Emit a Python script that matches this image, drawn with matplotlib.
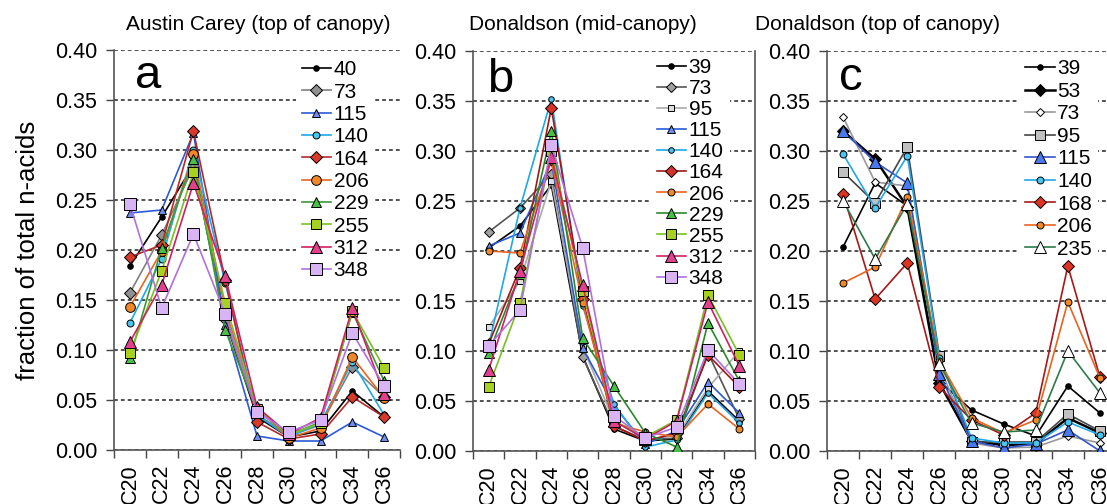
import matplotlib
matplotlib.use("Agg")
import matplotlib.pyplot as plt
from matplotlib.ticker import FixedLocator

plt.rcParams['font.family'] = ['Liberation Sans', 'DejaVu Sans']

categories = ["C20", "C22", "C24", "C26", "C28", "C30", "C32", "C34", "C36"]
yticks = [0.00, 0.05, 0.10, 0.15, 0.20, 0.25, 0.30, 0.35, 0.40]

# panel a: Austin Carey (top of canopy)
a_labels = ["40", "73", "115", "140", "164", "206", "229", "255", "312", "348"]
a_values = [
    [0.184, 0.233, 0.285, 0.130, 0.033, 0.013, 0.019, 0.059, 0.033],
    [0.157, 0.215, 0.283, 0.131, 0.036, 0.014, 0.025, 0.083, 0.053],
    [0.237, 0.240, 0.317, 0.125, 0.014, 0.009, 0.009, 0.028, 0.013],
    [0.127, 0.191, 0.300, 0.167, 0.035, 0.013, 0.027, 0.088, 0.035],
    [0.193, 0.205, 0.319, 0.170, 0.028, 0.011, 0.016, 0.053, 0.033],
    [0.143, 0.199, 0.296, 0.140, 0.042, 0.012, 0.022, 0.093, 0.052],
    [0.092, 0.202, 0.291, 0.120, 0.040, 0.015, 0.028, 0.138, 0.069],
    [0.097, 0.179, 0.278, 0.147, 0.041, 0.015, 0.027, 0.139, 0.082],
    [0.108, 0.165, 0.267, 0.174, 0.043, 0.016, 0.032, 0.142, 0.056],
    [0.246, 0.142, 0.216, 0.136, 0.038, 0.018, 0.030, 0.117, 0.064],
]

# panel b: Donaldson (mid-canopy)
b_labels = ["39", "73", "95", "115", "140", "164", "206", "229", "255", "312", "348"]
b_values = [
    [0.203, 0.225, 0.266, 0.095, 0.022, 0.010, 0.012, 0.060, 0.030],
    [0.219, 0.243, 0.277, 0.094, 0.025, 0.011, 0.013, 0.098, 0.032],
    [0.124, 0.170, 0.270, 0.104, 0.030, 0.012, 0.015, 0.063, 0.100],
    [0.205, 0.218, 0.290, 0.103, 0.045, 0.007, 0.020, 0.069, 0.038],
    [0.105, 0.243, 0.352, 0.145, 0.047, 0.004, 0.011, 0.058, 0.028],
    [0.107, 0.183, 0.343, 0.152, 0.025, 0.010, 0.018, 0.096, 0.064],
    [0.200, 0.198, 0.290, 0.148, 0.028, 0.019, 0.014, 0.047, 0.022],
    [0.098, 0.177, 0.320, 0.113, 0.065, 0.018, 0.004, 0.128, 0.070],
    [0.064, 0.148, 0.300, 0.160, 0.030, 0.014, 0.031, 0.156, 0.096],
    [0.081, 0.180, 0.294, 0.166, 0.030, 0.012, 0.030, 0.149, 0.085],
    [0.105, 0.141, 0.306, 0.203, 0.035, 0.013, 0.024, 0.101, 0.067],
]

# panel c: Donaldson (top of canopy)
c_labels = ["39", "53", "73", "95", "115", "140", "168", "206", "235"]
c_values = [
    [0.204, 0.268, 0.245, 0.070, 0.041, 0.027, 0.015, 0.065, 0.038],
    [0.320, 0.292, 0.244, 0.068, 0.010, 0.006, 0.007, 0.033, 0.018],
    [0.334, 0.269, 0.265, 0.085, 0.008, 0.003, 0.004, 0.015, 0.008],
    [0.279, 0.248, 0.304, 0.095, 0.009, 0.009, 0.009, 0.037, 0.020],
    [0.320, 0.289, 0.268, 0.077, 0.010, 0.003, 0.007, 0.021, 0.000],
    [0.297, 0.243, 0.295, 0.093, 0.013, 0.008, 0.008, 0.029, 0.016],
    [0.257, 0.152, 0.188, 0.064, 0.031, 0.016, 0.038, 0.185, 0.074],
    [0.168, 0.184, 0.254, 0.090, 0.033, 0.018, 0.031, 0.149, 0.073],
    [0.250, 0.192, 0.247, 0.087, 0.028, 0.019, 0.021, 0.100, 0.058],
]

# (line colour, marker, face colour, marker size, line width)
a_styles = [
    ("black", "o", "black", 4, 1.2),
    ("#808080", "D", "#909090", 6, 1.2),
    ("#2a5ad8", "^", "#6f8ff0", 6, 1.2),
    ("#20a8e8", "o", "#4cc4f0", 5, 1.2),
    ("#b8282a", "D", "#d83a2a", 6, 1.2),
    ("#e86420", "o", "#f0882a", 7, 1.2),
    ("#3a9a3a", "^", "#48c048", 7, 1.2),
    ("#78c020", "s", "#a8d020", 7, 1.2),
    ("#d02060", "^", "#e0408c", 8, 1.2),
    ("#b070e0", "s", "#d8b4f4", 8, 1.2),
]
b_styles = [
    ("black", "o", "black", 4, 1.2),
    ("#555555", "D", "#a0a0a0", 5, 1.2),
    ("#aaaaaa", "s", "#dddddd", 5, 1.2),
    ("#2a5ad8", "^", "#6f8ff0", 6, 1.2),
    ("#20a8e8", "o", "#4cc4f0", 4, 1.2),
    ("#a01818", "D", "#d8302a", 6, 1.2),
    ("#e86420", "o", "#f0882a", 5, 1.2),
    ("#2a8a2a", "^", "#48c048", 7, 1.2),
    ("#78c020", "s", "#a8d020", 7, 1.2),
    ("#d02060", "^", "#e0408c", 8, 1.2),
    ("#b070e0", "s", "#d8b4f4", 8, 1.2),
]
c_styles = [
    ("black", "o", "black", 4, 1.2),
    ("black", "D", "black", 6, 1.8),
    ("#999999", "D", "white", 4, 1.2),
    ("#444444", "s", "#c0c0c0", 7, 1.2),
    ("#3355cc", "^", "#4a78ee", 8, 1.2),
    ("#20a8e8", "o", "#4cc4f0", 5, 1.2),
    ("#a81818", "D", "#dd3322", 6, 1.2),
    ("#e86420", "o", "#f0882a", 5, 1.2),
    ("#2e7a4a", "^", "white", 8, 1.2),
]


def draw_panel(ax, labels, values, styles, letter, letter_pos, legend_pos, spacing, right_spine):
    x = range(len(categories))
    for lab, vals, (lc, mk, fc, ms, lw) in zip(labels, values, styles):
        ax.plot(x, vals, color=lc, lw=lw, marker=mk, markersize=ms,
                markerfacecolor=fc, markeredgecolor="black", markeredgewidth=0.7,
                label=lab, zorder=3)

    ax.set_xlim(-0.5, 8.5)
    ax.set_ylim(0, 0.40)
    ax.set_yticks(yticks)
    ax.set_yticklabels(["%.2f" % v for v in yticks], fontsize=15.5)
    ax.set_xticks(list(x))
    ax.set_xticklabels(categories, rotation=90, fontsize=15.5)
    ax.xaxis.set_minor_locator(FixedLocator([i - 0.5 for i in range(10)]))
    ax.tick_params(axis="x", which="major", length=0, pad=10)
    ax.tick_params(axis="x", which="minor", length=6, width=1, color="#444444")
    ax.tick_params(axis="y", length=6, width=1, color="#444444", pad=6)

    ax.yaxis.grid(True, linestyle=(0, (2.5, 2)), linewidth=1.1, color="#222222")
    ax.set_axisbelow(True)
    ax.spines["top"].set_visible(False)
    ax.spines["right"].set_visible(right_spine)
    for s in ("left", "bottom", "right"):
        ax.spines[s].set_color("#555555")
        ax.spines[s].set_linewidth(1.2)

    ax.text(letter_pos[0], letter_pos[1], letter, transform=ax.transAxes,
            fontsize=34, va="baseline", ha="left")

    leg = ax.legend(loc="upper left", bbox_to_anchor=legend_pos, fontsize=15,
                    frameon=True, fancybox=False, framealpha=1, edgecolor="none",
                    handlelength=1.4, handletextpad=0.12, labelspacing=spacing,
                    borderpad=0.3, borderaxespad=0)
    # above the grid, below the data lines
    leg.set_zorder(2.5)


fig = plt.figure(figsize=(11.07, 5.04), dpi=100)
W, H = 1107.0, 504.0

ax_a = fig.add_axes([114 / W, 1 - 450 / H, 286 / W, 400 / H])
ax_b = fig.add_axes([473 / W, 1 - 451 / H, 282 / W, 400 / H])
ax_c = fig.add_axes([827 / W, 1 - 451 / H, 289 / W, 400 / H])

draw_panel(ax_a, a_labels, a_values, a_styles, "a", (0.075, 0.905), (0.635, 0.99), 0.16, False)
draw_panel(ax_b, b_labels, b_values, b_styles, "b", (0.05, 0.8975), (0.63, 0.998), 0.1, True)
draw_panel(ax_c, c_labels, c_values, c_styles, "c", (0.04, 0.9025), (0.665, 0.995), 0.17, False)

fig.text(258 / W, 1 - 25 / H, "Austin Carey (top of canopy)", fontsize=15, ha="center", va="center")
fig.text(583 / W, 1 - 25 / H, "Donaldson (mid-canopy)", fontsize=15, ha="center", va="center")
fig.text(878 / W, 1 - 25 / H, "Donaldson (top of canopy)", fontsize=15, ha="center", va="center")
fig.text(28 / W, 1 - 250 / H, "fraction of total n-acids", fontsize=18.5, rotation=90,
         ha="center", va="center")

fig.savefig("out.png", dpi=100)
